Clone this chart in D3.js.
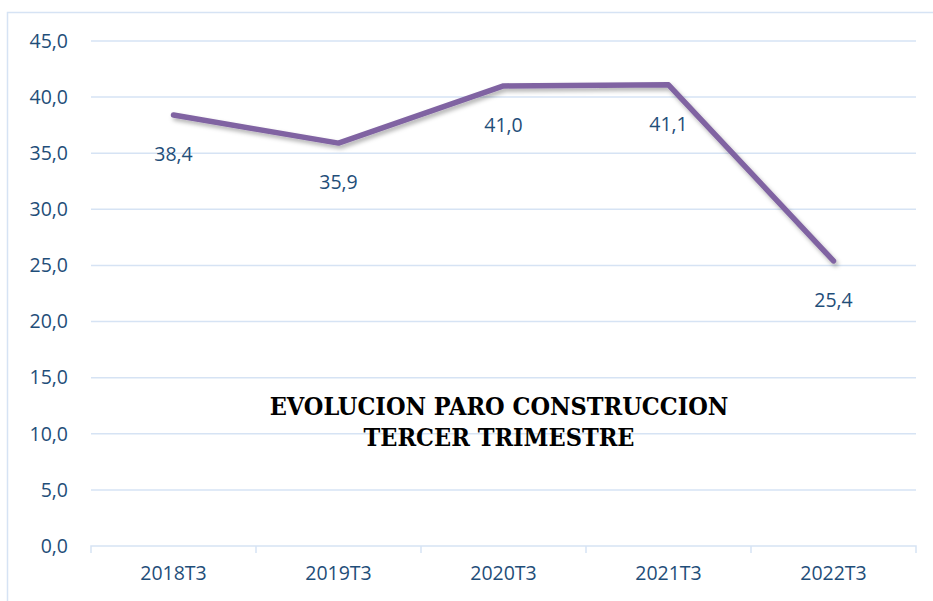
<!DOCTYPE html>
<html lang="es">
<head>
    <meta charset="UTF-8">
    <title>Evolucion paro construccion</title>
    <script src="https://cdn.jsdelivr.net/npm/d3@7"></script>
    <style>
        html, body { margin: 0; padding: 0; background: #fff; }
        svg { display: block; }
        .tick text { font-family: "Open Sans", "Noto Sans", sans-serif; }
    </style>
</head>
<body>
    <svg id="chart" width="933" height="601"></svg>
    <script>
        // datos del grafico
        var categories = ["2018T3", "2019T3", "2020T3", "2021T3", "2022T3"];
        var values = [38.4, 35.9, 41.0, 41.1, 25.4];
        var yTicks = [0, 5, 10, 15, 20, 25, 30, 35, 40, 45];
        var titleLines = ["EVOLUCION PARO CONSTRUCCION", "TERCER TRIMESTRE"];

        var svg = d3.select("#chart"),
            margin = { top: 41, right: 17, bottom: 55, left: 91 },
            width = +svg.attr("width") - margin.left - margin.right,
            height = +svg.attr("height") - margin.top - margin.bottom,
            textColor = "#1F4E79",
            gridColor = "#D6E3F4",
            lineColor = "#8064A2";

        // borde del area del grafico
        svg.append("rect")
            .attr("x", 7.5).attr("y", 12.5)
            .attr("width", 960).attr("height", 620)
            .attr("fill", "none")
            .attr("stroke", gridColor)
            .attr("stroke-width", 1.5);

        var defs = svg.append("defs");
        var shadow = defs.append("filter").attr("id", "shadow")
            .attr("x", "-10%").attr("y", "-10%").attr("width", "120%").attr("height", "140%");
        shadow.append("feDropShadow")
            .attr("dx", 2).attr("dy", 3).attr("stdDeviation", 2)
            .attr("flood-color", "#000").attr("flood-opacity", 0.3);

        var g = svg.append("g").attr("transform", "translate(" + margin.left + "," + margin.top + ")");

        var x = d3.scaleBand().domain(categories).range([0, width]).paddingInner(0).paddingOuter(0);
        var y = d3.scaleLinear().domain([0, 45]).range([height, 0]);

        // lineas de cuadricula
        g.append("g")
            .selectAll("line")
            .data(yTicks.filter(function (d) { return d > 0; }))
            .enter().append("line")
            .attr("x1", 0).attr("x2", width)
            .attr("y1", function (d) { return y(d); })
            .attr("y2", function (d) { return y(d); })
            .attr("stroke", gridColor)
            .attr("stroke-width", 1.5);

        // eje Y
        var yAxis = d3.axisLeft(y)
            .tickValues(yTicks)
            .tickSize(0)
            .tickPadding(23)
            .tickFormat(function (d) { return d3.format(".1f")(d).replace(".", ","); });

        g.append("g")
            .call(yAxis)
            .call(function (a) { a.select(".domain").remove(); })
            .selectAll("text")
            .attr("fill", textColor)
            .style("font-size", "19.5px");

        // eje X
        var xAxis = d3.axisBottom(x).tickSize(0).tickPadding(20);
        var gx = g.append("g")
            .attr("transform", "translate(0," + height + ")")
            .call(xAxis);
        gx.select(".domain")
            .attr("d", "M0,7V0H" + width + "V7")
            .attr("stroke", gridColor)
            .attr("stroke-width", 1.5)
            .attr("fill", "none");
        gx.selectAll("text")
            .attr("fill", textColor)
            .style("font-size", "19.5px");

        // marcas de separacion entre categorias
        gx.selectAll(".sep")
            .data(categories.slice(1))
            .enter().append("line")
            .attr("class", "sep")
            .attr("x1", function (d) { return x(d); })
            .attr("x2", function (d) { return x(d); })
            .attr("y1", 0).attr("y2", 7)
            .attr("stroke", gridColor)
            .attr("stroke-width", 1.5);

        // linea de datos
        var line = d3.line()
            .x(function (d, i) { return x(categories[i]) + x.bandwidth() / 2; })
            .y(function (d) { return y(d); });

        g.append("path")
            .datum(values)
            .attr("fill", "none")
            .attr("stroke", lineColor)
            .attr("stroke-width", 5.5)
            .attr("stroke-linejoin", "round")
            .attr("stroke-linecap", "round")
            .attr("filter", "url(#shadow)")
            .attr("d", line);

        // etiquetas de datos
        g.selectAll(".label")
            .data(values)
            .enter().append("text")
            .attr("class", "label")
            .attr("x", function (d, i) { return x(categories[i]) + x.bandwidth() / 2; })
            .attr("y", function (d) { return y(d) + 46; })
            .attr("text-anchor", "middle")
            .attr("fill", textColor)
            .style("font-family", "'Open Sans', 'Noto Sans', sans-serif")
            .style("font-size", "19.5px")
            .text(function (d) { return d3.format(".1f")(d).replace(".", ","); });

        // titulo
        svg.append("g")
            .selectAll("text")
            .data(titleLines)
            .enter().append("text")
            .attr("x", 499)
            .attr("y", function (d, i) { return 415 + i * 31; })
            .attr("text-anchor", "middle")
            .attr("fill", "#000")
            .style("font-family", "'DejaVu Serif Condensed', 'DejaVu Serif', serif")
            .style("font-weight", "bold")
            .style("font-size", "25px")
            .text(function (d) { return d; });
    </script>
</body>
</html>
